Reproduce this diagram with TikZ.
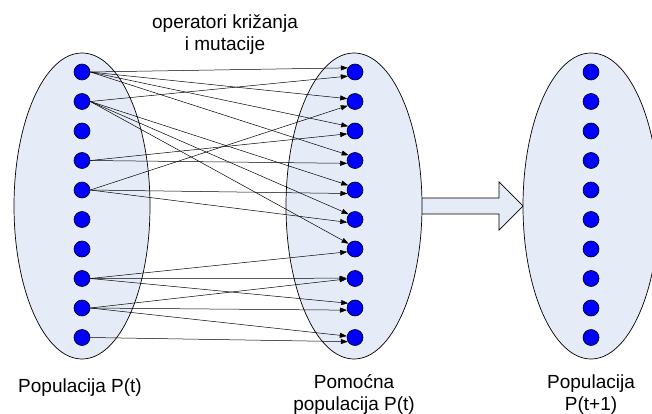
\documentclass[tikz,border=0pt]{standalone}
\usepackage{fontspec}
\setmainfont{Liberation Sans}
\usetikzlibrary{arrows.meta}
\definecolor{popfill}{RGB}{230,236,247}
\definecolor{dotblue}{RGB}{0,0,255}
\tikzset{
  pop/.style={draw=black, line width=0.7pt, fill=popfill},
  dot/.style={circle, draw=black, line width=0.6pt, fill=dotblue, minimum size=16pt, inner sep=0pt},
  conn/.style={draw=black, line width=0.5pt, -{Triangle[length=7pt,width=5pt]}},
  lbl/.style={font=\fontsize{19}{22}\selectfont, inner sep=0pt, align=center}
}
\begin{document}
\begin{tikzpicture}[x=1pt,y=-1pt]
\useasboundingbox (0,0) rectangle (652,414);
\clip (0,0) rectangle (652,414);
% big transition arrow
\path[pop] (415,198) -- (499,198) -- (499,182) -- (523,206) -- (499,230) -- (499,214) -- (415,214) -- cycle;
% populations
\path[pop] (82,206) ellipse [x radius=68, y radius=153];
\path[pop] (354,206) ellipse [x radius=68, y radius=153];
\path[pop] (591,206) ellipse [x radius=68, y radius=153];
% dots
\foreach \i in {0,...,9}{
  \node[dot] (l\i) at (82,{72+29.5*\i}) {};
  \node[dot] (m\i) at (355,{72+29.5*\i}) {};
  \node[dot] (r\i) at (591,{72+29.5*\i}) {};
}
% connectors
\draw[conn] (l0.east) -- (m0.150);
\draw[conn] (l1.east) -- (m0.210);
\draw[conn] (l0.east) -- (m1.160);
\draw[conn] (l4.east) -- (m1.210);
\draw[conn] (l0.east) -- (m2.145);
\draw[conn] (l3.east) -- (m2.200);
\draw[conn] (l0.east) -- (m3.140);
\draw[conn] (l3.east) -- (m3.200);
\draw[conn] (l1.east) -- (m4.145);
\draw[conn] (l4.east) -- (m4.205);
\draw[conn] (l1.east) -- (m5.140);
\draw[conn] (l4.east) -- (m5.200);
\draw[conn] (l1.east) -- (m6.140);
\draw[conn] (l7.east) -- (m6.200);
\draw[conn] (l7.east) -- (m7.178);
\draw[conn] (l8.east) -- (m7.183);
\draw[conn] (l7.east) -- (m8.145);
\draw[conn] (l8.east) -- (m8.195);
\draw[conn] (l8.east) -- (m9.170);
\draw[conn] (l9.east) -- (m9.210);
% labels
\node[lbl] (t0) at (225,34.5) {operatori križanja\\i mutacije};
\node[lbl, anchor=base] (t1) at (80,392) {Populacija P(t)};
\node[lbl, anchor=base] (t2) at (354,388) {Pomoćna};
\node[lbl, anchor=base] (t3) at (354,410) {populacija P(t)};
\node[lbl, anchor=base] (t4) at (591,388) {Populacija};
\node[lbl, anchor=base] (t5) at (591,410) {P(t+1)};
\end{tikzpicture}
\end{document}
